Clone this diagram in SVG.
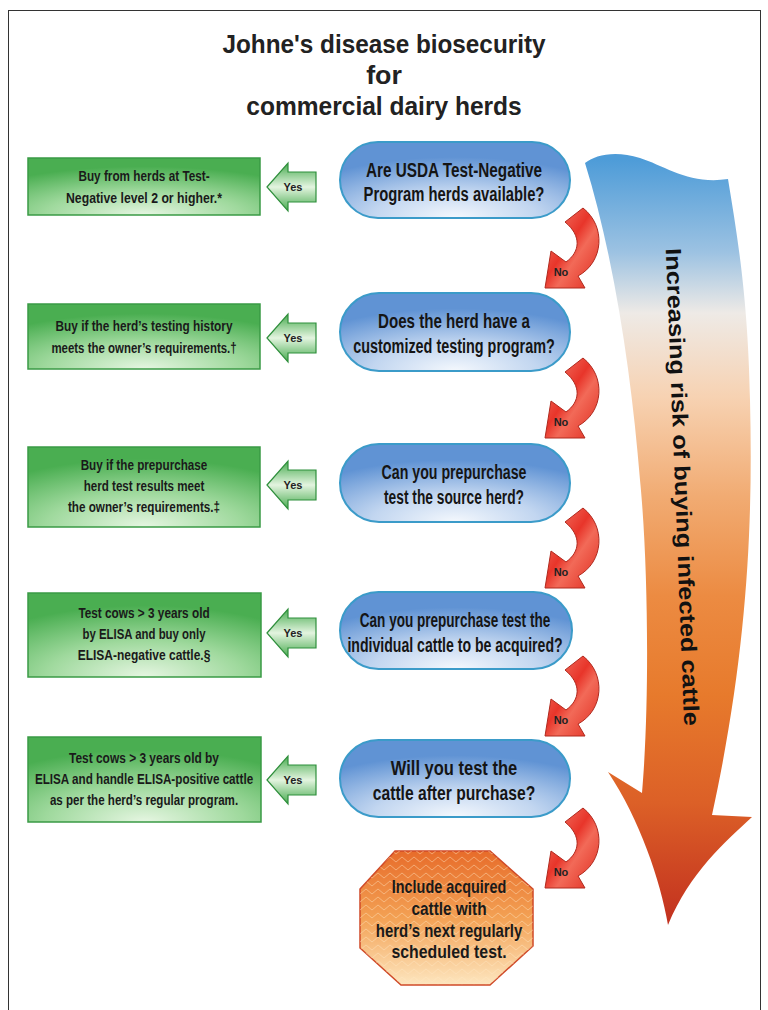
<svg xmlns="http://www.w3.org/2000/svg" width="768" height="1010" viewBox="0 0 768 1010">
<style>
.title{font-family:"Liberation Sans",Arial,sans-serif;font-weight:bold;font-size:25px;fill:#222;text-anchor:middle}
.gtxt{font-family:"Liberation Sans",Arial,sans-serif;font-weight:bold;font-size:15px;fill:#1a1a1a;text-anchor:middle}
.ptxt{font-family:"Liberation Sans",Arial,sans-serif;font-weight:bold;font-size:20px;fill:#151515;text-anchor:middle}
.otxt{font-family:"Liberation Sans",Arial,sans-serif;font-weight:bold;font-size:18px;fill:#1a1a1a;text-anchor:middle}
.small{font-family:"Liberation Sans",Arial,sans-serif;font-weight:bold;font-size:11px;fill:#222;text-anchor:middle}
.big{font-family:"Liberation Sans",Arial,sans-serif;font-weight:bold;font-size:22px;fill:#111;text-anchor:middle}
.gbox{fill:url(#greenG);stroke:#3a9a45;stroke-width:1.5}
.pill{fill:url(#pillG);stroke:#3b9bc9;stroke-width:2}
.yes{fill:url(#yesG);stroke:#2f8f3c;stroke-width:1.2}
.no{fill:url(#noG);stroke:#b02a1e;stroke-width:1}
</style>
<defs>
<radialGradient id="greenG" cx="0.5" cy="1" r="0.85">
<stop offset="0" stop-color="#e6f6e2"/>
<stop offset="0.5" stop-color="#9fd99d"/>
<stop offset="1" stop-color="#4aae51"/>
</radialGradient>
<radialGradient id="pillG" cx="0.5" cy="1" r="0.8">
<stop offset="0" stop-color="#f4f8fd"/>
<stop offset="0.45" stop-color="#c2d6f0"/>
<stop offset="1" stop-color="#6093d4"/>
</radialGradient>
<linearGradient id="yesG" x1="0" y1="0" x2="0" y2="1">
<stop offset="0" stop-color="#47ab4f"/>
<stop offset="0.5" stop-color="#e3f4df"/>
<stop offset="1" stop-color="#47ab4f"/>
</linearGradient>
<linearGradient id="noG" x1="0" y1="0" x2="1" y2="1">
<stop offset="0" stop-color="#f58a78"/>
<stop offset="0.45" stop-color="#e8352a"/>
<stop offset="0.6" stop-color="#f26a58"/>
<stop offset="1" stop-color="#e02a1e"/>
</linearGradient>
<linearGradient id="bigG" gradientUnits="userSpaceOnUse" x1="0" y1="160" x2="0" y2="925">
<stop offset="0" stop-color="#4e9cd8"/>
<stop offset="0.12" stop-color="#9cc2e2"/>
<stop offset="0.2" stop-color="#eeeae6"/>
<stop offset="0.31" stop-color="#f7d2b2"/>
<stop offset="0.44" stop-color="#f1ab72"/>
<stop offset="0.57" stop-color="#ec8b42"/>
<stop offset="0.7" stop-color="#e77a2c"/>
<stop offset="0.84" stop-color="#dc6027"/>
<stop offset="1" stop-color="#c2301f"/>
</linearGradient>
<linearGradient id="octG" x1="0" y1="0" x2="0" y2="1">
<stop offset="0" stop-color="#e76c2a"/>
<stop offset="0.5" stop-color="#f3a154"/>
<stop offset="1" stop-color="#fde6bf"/>
</linearGradient>
<pattern id="zig" width="12" height="8" patternUnits="userSpaceOnUse">
<path d="M0,6 L6,1 L12,6" fill="none" stroke="#ffe6c4" stroke-width="1" opacity="0.45"/>
</pattern>
<path id="noArrow" d="M565,222 L583,208 C606,226 604,262 578,276 L585,288 L545,288 L551,251 L566,262 C580,252 582,236 565,222 Z"/>
</defs>

<rect x="8.5" y="10.5" width="752" height="1010" fill="#fff" stroke="#333" stroke-width="1"/>

<g id="title" transform="translate(384,0) scale(0.85,1)">
<text class="title" x="0" y="53" textLength="380" lengthAdjust="spacingAndGlyphs">Johne's disease biosecurity</text>
<text class="title" x="0" y="84" textLength="42" lengthAdjust="spacingAndGlyphs">for</text>
<text class="title" x="0" y="115" textLength="324" lengthAdjust="spacingAndGlyphs">commercial dairy herds</text>
</g>

<g id="risk-arrow">
<path d="M585,163 C595,155 615,150 640,158 C665,166 690,185 728,179 C738,240 748,300 750,400 C753,520 748,650 712,815 L752,817 C725,842 690,872 668,925 C660,880 640,820 608,772 L642,793 C650,700 648,560 640,480 C632,380 615,260 585,163 Z" fill="url(#bigG)"/>
<text class="big" transform="translate(682,487) rotate(87.8)" x="0" y="7" textLength="478" lengthAdjust="spacingAndGlyphs">Increasing risk of buying infected cattle</text>
</g>

<g id="q1">
<rect class="pill" x="340" y="142" width="230" height="76" rx="38"/>
<g transform="translate(454,0) scale(0.8,1)">
<text class="ptxt" x="0" y="177" textLength="220" lengthAdjust="spacingAndGlyphs">Are USDA Test-Negative</text>
<text class="ptxt" x="0" y="201" textLength="226" lengthAdjust="spacingAndGlyphs">Program herds available?</text>
</g>
</g>
<g id="q2">
<rect class="pill" x="340" y="293" width="230" height="78" rx="39"/>
<g transform="translate(454,0) scale(0.8,1)">
<text class="ptxt" x="0" y="328" textLength="190" lengthAdjust="spacingAndGlyphs">Does the herd have a</text>
<text class="ptxt" x="0" y="353" textLength="252" lengthAdjust="spacingAndGlyphs">customized testing program?</text>
</g>
</g>
<g id="q3">
<rect class="pill" x="340" y="444" width="230" height="78" rx="39"/>
<g transform="translate(454,0) scale(0.8,1)">
<text class="ptxt" x="0" y="479" textLength="181" lengthAdjust="spacingAndGlyphs">Can you prepurchase</text>
<text class="ptxt" x="0" y="504" textLength="175" lengthAdjust="spacingAndGlyphs">test the source herd?</text>
</g>
</g>
<g id="q4">
<rect class="pill" x="340" y="592" width="232" height="77" rx="38.5"/>
<g transform="translate(455,0) scale(0.8,1)">
<text class="ptxt" x="0" y="627" textLength="238" lengthAdjust="spacingAndGlyphs">Can you prepurchase test the</text>
<text class="ptxt" x="0" y="652" textLength="269" lengthAdjust="spacingAndGlyphs">individual cattle to be acquired?</text>
</g>
</g>
<g id="q5">
<rect class="pill" x="340" y="740" width="230" height="77" rx="38.5"/>
<g transform="translate(454,0) scale(0.8,1)">
<text class="ptxt" x="0" y="775" textLength="158" lengthAdjust="spacingAndGlyphs">Will you test the</text>
<text class="ptxt" x="0" y="800" textLength="203" lengthAdjust="spacingAndGlyphs">cattle after purchase?</text>
</g>
</g>

<g id="a1">
<rect class="gbox" x="28" y="158" width="232" height="57"/>
<g transform="translate(144,0) scale(0.75,1)">
<text class="gtxt" x="0" y="181" textLength="175" lengthAdjust="spacingAndGlyphs">Buy from herds at Test-</text>
<text class="gtxt" x="0" y="203" textLength="208" lengthAdjust="spacingAndGlyphs">Negative level 2 or higher.*</text>
</g>
</g>
<g id="a2">
<rect class="gbox" x="28" y="304" width="232" height="65"/>
<g transform="translate(144,0) scale(0.75,1)">
<text class="gtxt" x="0" y="331" textLength="236" lengthAdjust="spacingAndGlyphs">Buy if the herd’s testing history</text>
<text class="gtxt" x="0" y="353" textLength="247" lengthAdjust="spacingAndGlyphs">meets the owner’s requirements.†</text>
</g>
</g>
<g id="a3">
<rect class="gbox" x="28" y="447" width="232" height="80"/>
<g transform="translate(144,0) scale(0.75,1)">
<text class="gtxt" x="0" y="470" textLength="169" lengthAdjust="spacingAndGlyphs">Buy if the prepurchase</text>
<text class="gtxt" x="0" y="491" textLength="161" lengthAdjust="spacingAndGlyphs">herd test  results meet</text>
<text class="gtxt" x="0" y="512" textLength="203" lengthAdjust="spacingAndGlyphs">the owner’s requirements.‡</text>
</g>
</g>
<g id="a4">
<rect class="gbox" x="28" y="593" width="233" height="84"/>
<g transform="translate(144,0) scale(0.75,1)">
<text class="gtxt" x="0" y="618" textLength="175" lengthAdjust="spacingAndGlyphs">Test cows &gt; 3 years old</text>
<text class="gtxt" x="0" y="639" textLength="164" lengthAdjust="spacingAndGlyphs">by ELISA and buy only</text>
<text class="gtxt" x="0" y="660" textLength="177" lengthAdjust="spacingAndGlyphs">ELISA-negative cattle.§</text>
</g>
</g>
<g id="a5">
<rect class="gbox" x="28" y="737" width="233" height="85"/>
<g transform="translate(144,0) scale(0.75,1)">
<text class="gtxt" x="0" y="763" textLength="200" lengthAdjust="spacingAndGlyphs">Test cows &gt; 3 years old by</text>
<text class="gtxt" x="0" y="784" textLength="291" lengthAdjust="spacingAndGlyphs">ELISA and handle ELISA-positive cattle</text>
<text class="gtxt" x="0" y="805" textLength="251" lengthAdjust="spacingAndGlyphs">as per the herd’s regular program.</text>
</g>
</g>

<g id="final">
<polygon points="395,851 490,851 533,889 533,946 490,985 401,985 360,948 360,889" fill="url(#octG)" stroke="#cf4a28" stroke-width="1.5"/>
<polygon points="395,851 490,851 533,889 533,946 490,985 401,985 360,948 360,889" fill="url(#zig)"/>
<g transform="translate(449,0) scale(0.8,1)">
<text class="otxt" x="0" y="893" textLength="143" lengthAdjust="spacingAndGlyphs">Include acquired</text>
<text class="otxt" x="0" y="915" textLength="94" lengthAdjust="spacingAndGlyphs">cattle with</text>
<text class="otxt" x="0" y="937" textLength="183" lengthAdjust="spacingAndGlyphs">herd’s next regularly</text>
<text class="otxt" x="0" y="958" textLength="144" lengthAdjust="spacingAndGlyphs">scheduled test.</text>
</g>
</g>

<g id="connectors">
<g id="yes1"><path class="yes" d="M267,187 L288,163 L288,172 L316,172 L316,202 L288,202 L288,211 Z"/><text class="small" x="293" y="191">Yes</text></g>
<g id="yes2"><path class="yes" d="M267,338 L288,314 L288,323 L316,323 L316,353 L288,353 L288,362 Z"/><text class="small" x="293" y="342">Yes</text></g>
<g id="yes3"><path class="yes" d="M267,485 L288,461 L288,470 L316,470 L316,500 L288,500 L288,509 Z"/><text class="small" x="293" y="489">Yes</text></g>
<g id="yes4"><path class="yes" d="M267,633 L288,609 L288,618 L316,618 L316,648 L288,648 L288,657 Z"/><text class="small" x="293" y="637">Yes</text></g>
<g id="yes5"><path class="yes" d="M267,780 L288,756 L288,765 L316,765 L316,795 L288,795 L288,804 Z"/><text class="small" x="293" y="784">Yes</text></g>
<g id="no1"><use href="#noArrow" class="no"/><text class="small" x="561" y="276">No</text></g>
<g id="no2" transform="translate(0,150)"><use href="#noArrow" class="no"/><text class="small" x="561" y="276">No</text></g>
<g id="no3" transform="translate(0,300)"><use href="#noArrow" class="no"/><text class="small" x="561" y="276">No</text></g>
<g id="no4" transform="translate(0,448)"><use href="#noArrow" class="no"/><text class="small" x="561" y="276">No</text></g>
<g id="no5" transform="translate(0,600)"><use href="#noArrow" class="no"/><text class="small" x="561" y="276">No</text></g>
</g>
</svg>
